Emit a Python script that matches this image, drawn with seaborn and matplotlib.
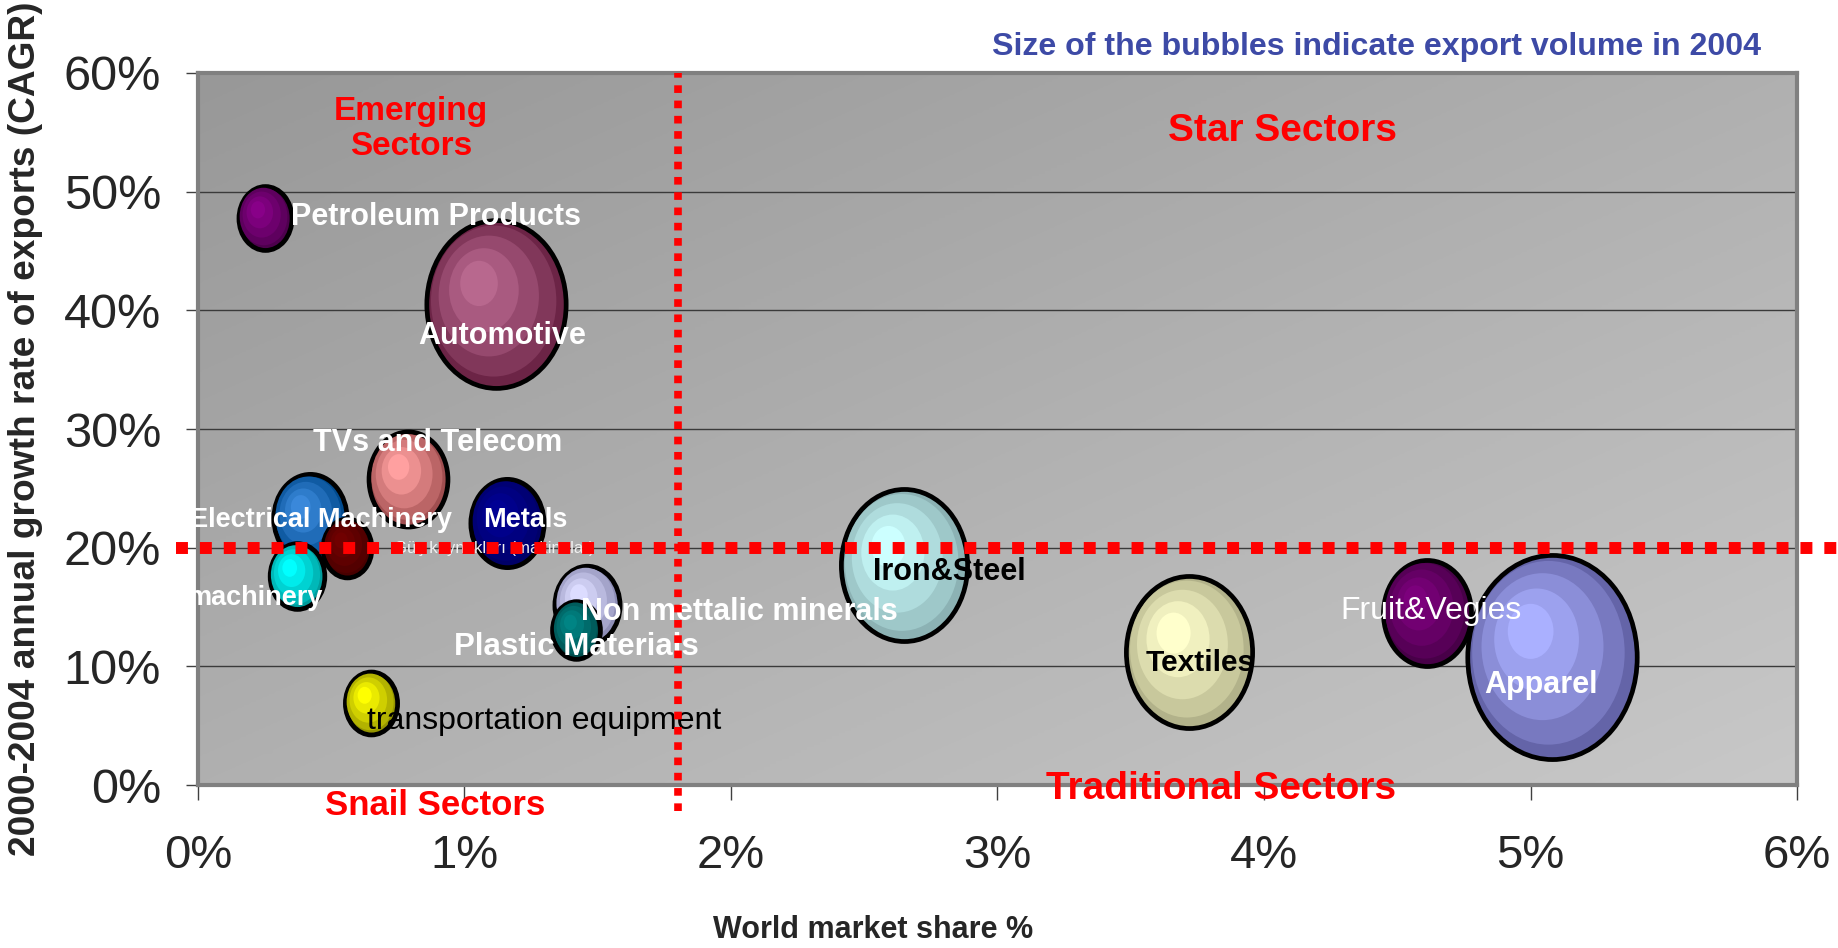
import numpy as np
import pandas as pd
import matplotlib
matplotlib.use("Agg")
import matplotlib.pyplot as plt
import seaborn as sns
from matplotlib.path import Path
from matplotlib.colors import to_rgb, LinearSegmentedColormap
from matplotlib import font_manager as fm

# ---------------- data ----------------
sectors = ["Petroleum Products", "Automotive", "TVs and Telecom", "Electrical Machinery",
           "Güç kaynakları (makinalar)", "machinery", "Metals", "Non mettalic minerals",
           "Plastic Materials", "transportation equipment", "Iron&Steel", "Textiles",
           "Fruit&Vegies", "Apparel"]
market_share = [0.25, 1.12, 0.79, 0.42, 0.56, 0.37, 1.16, 1.46, 1.42, 0.65, 2.65, 3.72, 4.61, 5.08]   # %
growth = [47.8, 40.5, 25.8, 22.5, 20.0, 17.6, 22.1, 15.2, 13.1, 6.9, 18.5, 11.2, 14.5, 10.8]          # % CAGR
volume = [0.98, 6.76, 2.17, 1.87, 0.83, 1.04, 1.87, 1.48, 0.80, 0.95, 5.55, 5.55, 2.70, 10.0]         # relative export volume 2004

x_ticks = [0, 1, 2, 3, 4, 5, 6]
x_tick_labels = ["0%", "1%", "2%", "3%", "4%", "5%", "6%"]
y_ticks = [0, 10, 20, 30, 40, 50, 60]
y_tick_labels = ["0%", "10%", "20%", "30%", "40%", "50%", "60%"]

quad_share = 1.8
quad_growth = 20
quadrant_names = ["Emerging\nSectors", "Star Sectors", "Snail Sectors", "Traditional Sectors"]

title = "Size of the bubbles indicate export volume in 2004"
x_label = "World market share %"
y_label = "2000-2004 annual growth rate of exports (CAGR)"

# ---------------- styles / layout ----------------
colors = {  # (outer dark, inner light)
    "Petroleum Products": ("#4d004d", "#880088"),
    "Automotive": ("#6c2446", "#b8688e"),
    "TVs and Telecom": ("#a04e50", "#ffa0a0"),
    "Electrical Machinery": ("#004a8e", "#3a88da"),
    "Güç kaynakları (makinalar)": ("#480000", "#700000"),
    "machinery": ("#009c9c", "#00ffff"),
    "Metals": ("#000068", "#000094"),
    "Non mettalic minerals": ("#8e8eb6", "#dcdcff"),
    "Plastic Materials": ("#004c4c", "#008484"),
    "transportation equipment": ("#959500", "#ffff00"),
    "Iron&Steel": ("#8cb2b4", "#ccffff"),
    "Textiles": ("#b2b28a", "#ffffcc"),
    "Fruit&Vegies": ("#480048", "#7c007c"),
    "Apparel": ("#6464a8", "#aab0ff"),
}
# label: (dx, dy, ha, color, weight, size)
label_style = {
    "Petroleum Products": (0.10, 0.1, "left", "white", "bold", 22),
    "Automotive": (0.02, -2.7, "center", "white", "bold", 22),
    "TVs and Telecom": (0.11, 3.0, "center", "white", "bold", 22),
    "Electrical Machinery": (0.04, -0.2, "center", "white", "bold", 19.5),
    "Güç kaynakları (makinalar)": (0.55, -0.1, "center", "#f0f0f0", "normal", 12),
    "machinery": (-0.155, -1.8, "center", "white", "bold", 19.5),
    "Metals": (0.07, 0.2, "center", "white", "bold", 19.5),
    "Non mettalic minerals": (0.57, -0.6, "center", "white", "bold", 22),
    "Plastic Materials": (0.0, -1.5, "center", "white", "bold", 22.5),
    "transportation equipment": (0.65, -1.5, "center", "black", "normal", 23),
    "Iron&Steel": (0.17, -0.55, "center", "black", "bold", 22),
    "Textiles": (0.04, -0.9, "center", "black", "bold", 21.5),
    "Fruit&Vegies": (0.015, 0.2, "center", "white", "normal", 23),
    "Apparel": (-0.04, -2.4, "center", "white", "bold", 22),
}
quad_layout = [(0.80, 55.3, 24), (4.07, 55.1, 28), (0.89, -1.7, 25), (3.84, -0.3, 28)]

ASPECT = 0.83
SMAX, VMAX = 21600, 10.0
LAYERS = [(1.00, 0.00, 0.00, 0.00), (0.90, -0.04, 0.04, 0.28), (0.72, -0.11, 0.10, 0.55),
          (0.50, -0.18, 0.17, 0.80), (0.27, -0.25, 0.25, 1.00)]

sns.set_theme(style="white")
plt.rcParams["font.family"] = ["Liberation Sans", "DejaVu Sans"]
names = {f.name for f in fm.fontManager.ttflist}
narrow = "Liberation Sans Narrow" in names


def ellipse_marker(r, dx, dy):
    c = Path.unit_circle()
    v = c.vertices * np.array([ASPECT * r, r]) + np.array([dx * ASPECT, dy])
    codes = c.codes
    if r < 1:
        v = np.vstack([v, [[0, 1.0], [0, 1.0]]])
        codes = np.concatenate([codes, [Path.MOVETO, Path.LINETO]])
    return Path(v, codes)


def blend(a, b, t):
    a, b = np.array(to_rgb(a)), np.array(to_rgb(b))
    return tuple(a + (b - a) * t)


fig = plt.figure(figsize=(18.38, 9.48), dpi=100)
ax = fig.add_axes([0.1077, 0.1719, 0.870, 0.7511])

# gradient background
g = np.linspace(0, 1, 256)
gx, gy = np.meshgrid(g, g)
cmap = LinearSegmentedColormap.from_list("bg", ["#989898", "#c8c8c8"])
ax.imshow((gx + gy) / 2, cmap=cmap, extent=(0, 1, 0, 1), transform=ax.transAxes,
          aspect="auto", zorder=0, interpolation="bilinear")

df = pd.DataFrame({"sector": sectors, "share": market_share, "growth": growth, "volume": volume})

for i in range(len(df)):
    sub = df.iloc[[i]]
    dark, light = colors[sub["sector"].iloc[0]]
    for k, (r, dx, dy, t) in enumerate(LAYERS):
        sns.scatterplot(data=sub, x="share", y="growth", size="volume", sizes=(0, SMAX),
                        size_norm=(0, VMAX), marker=ellipse_marker(r, dx, dy),
                        color=blend(dark, light, t),
                        edgecolor="black" if k == 0 else "none",
                        linewidth=3.4 if k == 0 else 0, legend=False, ax=ax, zorder=3)

# bubble labels
for s, x, y in zip(sectors, market_share, growth):
    dx, dy, ha, c, w, fs = label_style[s]
    ax.text(x + dx, y + dy, s, ha=ha, va="center", color=c, fontweight=w, fontsize=fs, zorder=5)

# quadrant labels
for name, (qx, qy, fs) in zip(quadrant_names, quad_layout):
    ax.text(qx, qy, name, ha="center", va="center", color="red", fontweight="bold",
            fontsize=fs, zorder=7, clip_on=False, linespacing=1.15)

# quadrant dividers
ax.axhline(quad_growth, xmin=-0.0138, xmax=1.03, color="red", lw=8.6, linestyle=(0, (1, 1)),
           dash_capstyle="butt", clip_on=False, zorder=6)
ax.axvline(quad_share, ymin=-0.037, ymax=1.0, color="red", lw=5.5, linestyle=(0, (1, 1)),
           dash_capstyle="butt", clip_on=False, zorder=6)

ax.set_xlim(0, 6)
ax.set_ylim(0, 60)
ax.set_xticks(x_ticks)
ax.set_xticklabels(x_tick_labels)
ax.set_yticks(y_ticks)
ax.set_yticklabels(y_tick_labels)
ax.yaxis.grid(True, color="#3a3a3a", lw=1.0)
ax.xaxis.grid(False)
ax.set_axisbelow(True)

ax.tick_params(axis="y", length=8.6, width=1, color="#404040", pad=18, labelsize=35,
               left=True, direction="out")
ax.tick_params(axis="x", length=11, width=1, color="#404040", pad=24,
               labelsize=40 if narrow else 34, bottom=True, direction="out")
if narrow:
    for lab in ax.get_xticklabels():
        lab.set_fontfamily(["Liberation Sans Narrow", "Liberation Sans"])

for sp in ax.spines.values():
    sp.set_color("#808080")
    sp.set_linewidth(3)

ax.set_xlabel(x_label, fontsize=22, fontweight="bold", va="center")
ax.xaxis.set_label_coords(0.422, -0.2037)
ax.set_ylabel(y_label, fontsize=26.7, fontweight="bold", va="center")
ax.yaxis.set_label_coords(-0.1076, 0.5)

fig.text(0.958, 0.9504, title, ha="right", va="center", color="#3d4aa6",
         fontweight="bold", fontsize=23.1)

fig.savefig("out.png", dpi=100)
